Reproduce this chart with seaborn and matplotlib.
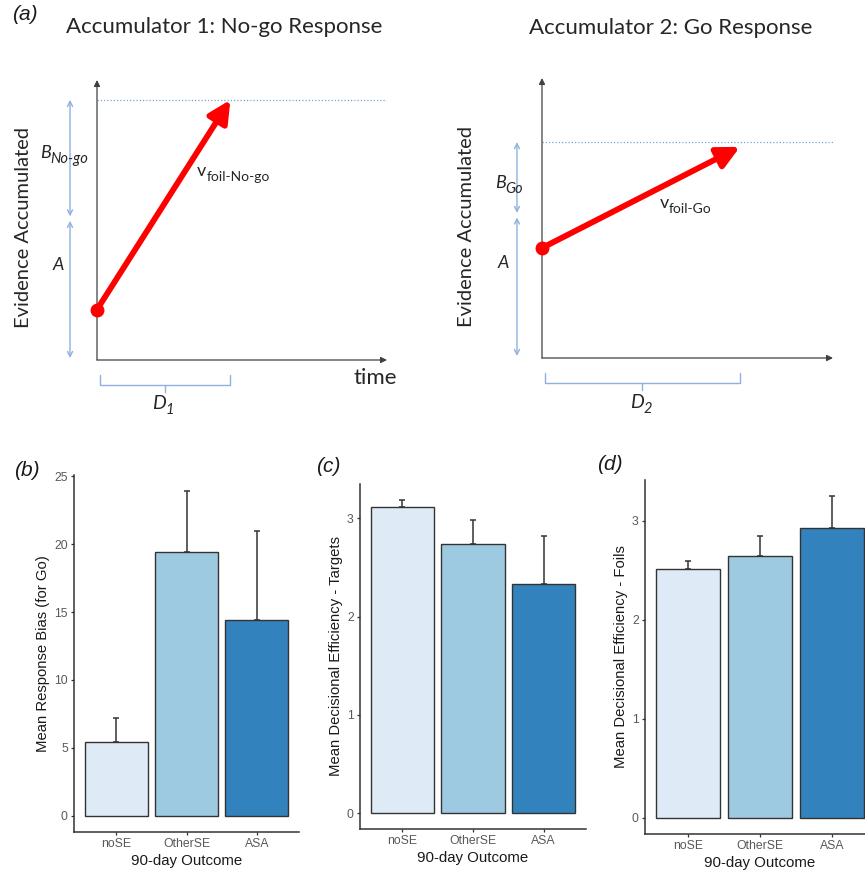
import numpy as np
import pandas as pd
import seaborn as sns
from matplotlib import pyplot as plt

# ---- bar chart data ----
GROUPS = ['noSE', 'OtherSE', 'ASA']
BAR_COLORS = ['#deebf7', '#9ecae1', '#3182bd']

BIAS_MEAN = [5.4, 19.45, 14.45]
BIAS_UPPER = [7.2, 23.9, 20.95]
TARGET_MEAN = [3.12, 2.74, 2.33]
TARGET_UPPER = [3.19, 2.98, 2.82]
FOIL_MEAN = [2.51, 2.65, 2.93]
FOIL_UPPER = [2.59, 2.85, 3.25]

# ---- accumulator schematic (arbitrary 0-10 units) ----
ACC_TITLES = ['Accumulator 1: No-go Response', 'Accumulator 2: Go Response']
START_EVIDENCE = [1.8, 3.93]
THRESHOLD = [9.29, 7.71]
A_TOP = [5.05, 5.1]
END_TIME = [4.6, 6.8]
END_EVIDENCE = [9.29, 7.54]
B_SUB = ['No-go', 'Go']
V_SUB = ['foil-No-go', 'foil-Go']
D_SUB = ['1', '2']

W, H = 865, 873
DIAG_FONT = 'Lato'
BAR_FONT = 'Liberation Sans'
TXT = '#262626'
AXC = '#404040'
BLUE = '#8fb0e0'

sns.set_style('white')
plt.rcParams['font.family'] = [BAR_FONT, 'DejaVu Sans']

fig = plt.figure(figsize=(W / 100, H / 100), dpi=100)


def px_axes(left, top, right, bottom):
    return fig.add_axes([left / W, 1 - bottom / H, (right - left) / W, (bottom - top) / H])


def sub_text(ax, x, y, main, sub, size, sub_size, style='italic', sub_style='italic', ha='left'):
    t = ax.text(x, y, main, fontsize=size, style=style, ha=ha, va='center',
                family=DIAG_FONT, color=TXT, clip_on=False)
    ax.annotate(sub, xy=(1.0, 0.12), xycoords=t, fontsize=sub_size, style=sub_style,
                ha='left', va='center', family=DIAG_FONT, color=TXT, annotation_clip=False)
    return t


def accumulator(ax, i, labels):
    ax.set_xlim(0, 10)
    ax.set_ylim(0, 10)
    ax.axis('off')
    ax_arrow = dict(arrowstyle='-|>', color=AXC, lw=0.9, mutation_scale=9, shrinkA=0, shrinkB=0)
    ax.annotate('', xy=(10, 0), xytext=(0, 0), arrowprops=ax_arrow, annotation_clip=False)
    ax.annotate('', xy=(0, 10), xytext=(0, 0), arrowprops=ax_arrow, annotation_clip=False)

    # threshold
    ax.plot([0, 10], [THRESHOLD[i], THRESHOLD[i]], ls=(0, (1, 1.6)), color='#7fa0dc', lw=0.9)

    # drift arrow
    ax.annotate('', xy=(END_TIME[i], END_EVIDENCE[i]), xytext=(0, START_EVIDENCE[i]),
                arrowprops=dict(arrowstyle='-|>,head_length=0.6,head_width=0.3', lw=4.2,
                                color='#ff0000', mutation_scale=22, shrinkA=0, shrinkB=0),
                annotation_clip=False)
    ax.plot([0], [START_EVIDENCE[i]], 'o', ms=9, color='#ff0000', clip_on=False, zorder=5)

    # A and B ranges
    bx = labels['bx']
    dbl = dict(arrowstyle='<->', color=BLUE, lw=1.0, mutation_scale=9, shrinkA=0, shrinkB=0)
    ax.annotate('', xy=(bx, 0.07), xytext=(bx, A_TOP[i] - 0.08), arrowprops=dbl, annotation_clip=False)
    ax.annotate('', xy=(bx, A_TOP[i] + 0.08), xytext=(bx, THRESHOLD[i]), arrowprops=dbl,
                annotation_clip=False)

    # D brace under the time axis
    x0, x1 = 0.1, END_TIME[i]
    xm = (x0 + x1) / 2
    ax.plot([x0, x0, x1, x1], [-0.55, -0.89, -0.89, -0.55], color=BLUE, lw=1.0, clip_on=False)
    ax.plot([xm, xm], [-0.89, -1.15], color=BLUE, lw=1.0, clip_on=False)

    # texts
    ax.text(labels['title'][0], labels['title'][1], ACC_TITLES[i], ha='center', va='center',
            fontsize=16, family=DIAG_FONT, color=TXT)
    ax.text(labels['ylab'][0], labels['ylab'][1], 'Evidence Accumulated', rotation=90,
            ha='center', va='center', fontsize=14.5, family=DIAG_FONT, color=TXT)
    sub_text(ax, labels['B'][0], labels['B'][1], 'B', B_SUB[i], 13, 10.5)
    ax.text(labels['A'][0], labels['A'][1], 'A', ha='center', va='center', style='italic',
            fontsize=13, family=DIAG_FONT, color=TXT)
    sub_text(ax, labels['v'][0], labels['v'][1], 'v', V_SUB[i], 13, 10,
             style='normal', sub_style='normal')
    sub_text(ax, labels['D'][0], labels['D'][1], 'D', D_SUB[i], 14, 10.5)
    if labels.get('time'):
        ax.text(labels['time'][0], labels['time'][1], 'time', ha='left', va='center',
                fontsize=16, family=DIAG_FONT, color=TXT)


ax1 = px_axes(97, 80, 387, 360)
accumulator(ax1, 0, {'title': (4.4, 11.9), 'ylab': (-2.55, 4.75), 'bx': -0.93,
                     'B': (-1.97, 7.39), 'A': (-1.34, 3.39), 'v': (3.45, 6.75),
                     'D': (1.9, -1.54), 'time': (8.83, -0.64)})
ax2 = px_axes(542, 78, 833, 358)
accumulator(ax2, 1, {'title': (4.42, 11.79), 'ylab': (-2.58, 4.68), 'bx': -0.86,
                     'B': (-1.62, 6.25), 'A': (-1.34, 3.39), 'v': (4.05, 5.54),
                     'D': (3.02, -1.6)})


def bar_panel(ax, means, uppers, ylabel, yticks):
    df = pd.DataFrame({'outcome': GROUPS, 'value': means})
    sns.barplot(data=df, x='outcome', y='value', hue='outcome', order=GROUPS,
                hue_order=GROUPS, palette=BAR_COLORS, saturation=1, width=0.9,
                edgecolor='#333333', linewidth=1.0, errorbar=None, legend=False,
                ax=ax, zorder=2)
    means = np.array(means)
    uppers = np.array(uppers)
    ax.errorbar(np.arange(len(GROUPS)), means, yerr=[np.zeros(len(GROUPS)), uppers - means],
                fmt='none', ecolor='#333333', elinewidth=1.1, capsize=2.2, capthick=1.1, zorder=1)
    top = uppers.max()
    ax.set_ylim(-0.05 * top, 1.05 * top)
    ax.set_xlim(-0.6, len(GROUPS) - 0.4)
    ax.set_yticks(yticks)
    ax.set_xlabel('90-day Outcome', fontsize=10.8, color='#1a1a1a', labelpad=3)
    ax.set_ylabel(ylabel, fontsize=10.7, color='#1a1a1a', labelpad=3)
    sns.despine(ax=ax)
    for s in ['left', 'bottom']:
        ax.spines[s].set_color('#333333')
        ax.spines[s].set_linewidth(1.1)
    ax.tick_params(axis='both', length=2.5, width=0.9, color='#333333', labelsize=8.8,
                   labelcolor='#595959', pad=2, left=True, bottom=True)


axb = px_axes(74, 475, 299, 832)
bar_panel(axb, BIAS_MEAN, BIAS_UPPER, 'Mean Response Bias (for Go)', [0, 5, 10, 15, 20, 25])
axc = px_axes(360, 484, 586, 829)
bar_panel(axc, TARGET_MEAN, TARGET_UPPER, 'Mean Decisional Efficiency - Targets', [0, 1, 2, 3])
axd = px_axes(645, 480, 875, 834)
bar_panel(axd, FOIL_MEAN, FOIL_UPPER, 'Mean Decisional Efficiency - Foils', [0, 1, 2, 3])

for lab, (x, y) in zip(['(a)', '(b)', '(c)', '(d)'], [(12, 15), (14, 470), (316, 466), (597, 465)]):
    fig.text(x / W, 1 - y / H, lab, fontsize=15, style='italic', ha='left', va='center',
             color='#1a1a1a')

fig.savefig('out.png', dpi=100)
